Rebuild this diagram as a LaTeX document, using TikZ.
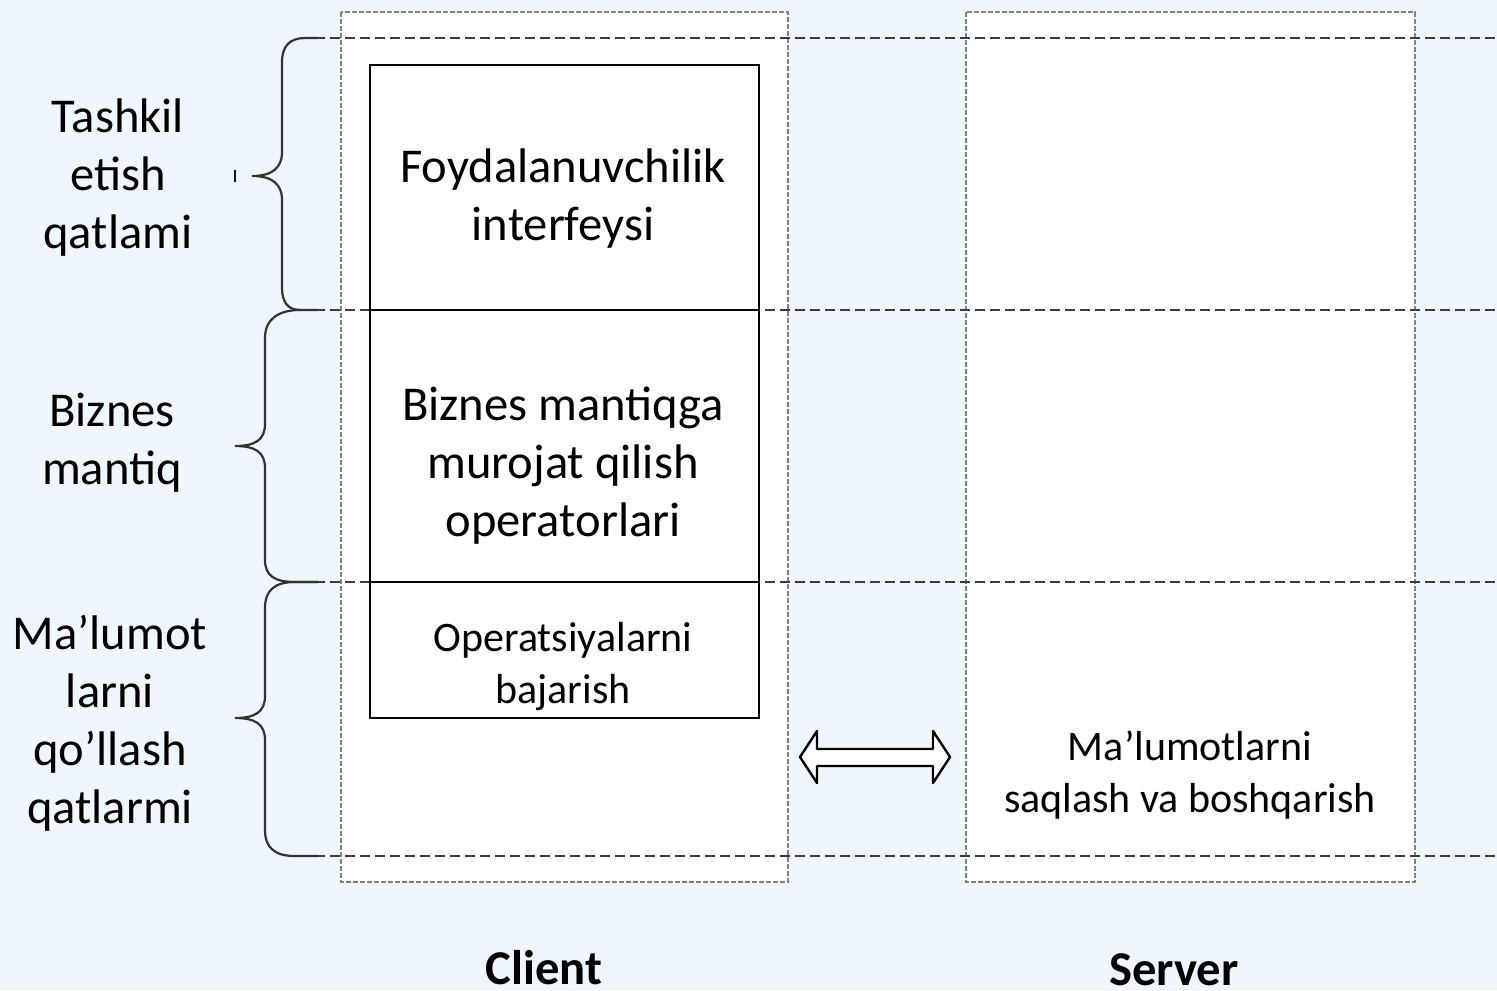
\documentclass[tikz,border=0pt]{standalone}
\usepackage{fontspec}
\setmainfont{Carlito}
\usetikzlibrary{positioning}
\definecolor{bgblue}{RGB}{239,247,253}
\definecolor{gridgray}{RGB}{60,60,60}
\definecolor{colgray}{RGB}{130,130,130}
\tikzset{
  layerline/.style={draw=gridgray, line width=1.3pt, dash pattern=on 5pt off 2.5pt},
  colborder/.style={draw=colgray, line width=0.9pt, dash pattern=on 2.5pt off 1pt, fill=white},
  brace/.style={draw=black!80, line width=1.1pt},
  bigtxt/.style={align=center, font=\fontsize{24.3}{29}\selectfont},
  midtxt/.style={align=center, font=\fontsize{21}{26}\selectfont},
  coltitle/.style={font=\fontsize{24.3}{28}\selectfont\bfseries}
}
\begin{document}
\begin{tikzpicture}[x=0.5pt,y=0.5pt,yscale=-1,xscale=1]
\fill[bgblue] (0,0) rectangle (1497,990);
\useasboundingbox (0,0) rectangle (1497,990);

%Shape: Rectangle [client column]
\path[colborder] (341,12) rectangle (788,882);
%Shape: Rectangle [server column]
\path[colborder] (966,12) rectangle (1415,882);

%Straight Lines [layer borders]
\draw[layerline] (300,38) -- (1497,38);
\draw[layerline] (300,310) -- (1497,310);
\draw[layerline] (300,582) -- (1497,582);
\draw[layerline] (300,856) -- (1497,856);

%Shape: Rectangle [client box]
\draw[line width=1.1pt] (370,65) rectangle (759,718);
\draw[line width=1.1pt] (370,310) -- (759,310);
\draw[line width=1.1pt] (370,582) -- (759,582);

%Shape: Brace [top]
\draw[brace] (318,38) -- (305,38) .. controls (290,38) and (282,46) .. (282,62) -- (282,152) .. controls (282,168) and (272,176) .. (252,176) .. controls (272,176) and (282,184) .. (282,200) -- (282,288) .. controls (282,302) and (288,310) .. (300,310) -- (318,310);
%Shape: Brace [middle]
\draw[brace] (300,310) .. controls (280,310) and (265,318) .. (265,338) -- (265,424) .. controls (265,440) and (255,446) .. (235,446) .. controls (255,446) and (265,452) .. (265,468) -- (265,560) .. controls (265,576) and (275,582) .. (295,582) -- (318,582);
%Shape: Brace [bottom]
\draw[brace] (318,582) -- (295,582) .. controls (275,582) and (265,590) .. (265,608) -- (265,696) .. controls (265,712) and (255,718) .. (235,718) .. controls (255,718) and (265,724) .. (265,740) -- (265,830) .. controls (265,848) and (275,856) .. (295,856) -- (318,856);
\draw[blue!50!black, line width=0.8pt] (235,170) -- (235,182);

%Shape: Double Arrow
\draw[line width=1.2pt, fill=white, line join=round] (800,757) -- (817,731) -- (817,749) -- (933,749) -- (933,731) -- (950,757) -- (933,783) -- (933,766) -- (817,766) -- (817,783) -- cycle;

% Text Node
\node[bigtxt] (tashkil) at (118,178) {Tashkil\\etish\\qatlami};
% Text Node
\node[bigtxt] (biznes) at (112,443) {Biznes\\mantiq};
% Text Node
\node[bigtxt] (malumot) at (110,723) {Ma’lumot\\larni\\qo’llash\\qatlarmi};
% Text Node
\node[bigtxt] (foyda) at (563,199) {Foydalanuvchilik\\interfeysi};
% Text Node
\node[bigtxt] (murojat) at (563,466) {Biznes mantiqga\\murojat qilish\\operatorlari};
% Text Node
\node[midtxt] (operats) at (563,667) {Operatsiyalarni\\bajarish};
% Text Node
\node[midtxt] (saqlash) at (1190,775) {Ma’lumotlarni\\saqlash va boshqarish};
% Text Node
\node[coltitle] (client) at (544,968) {Client};
% Text Node
\node[coltitle] (server) at (1174,970) {Server};

\end{tikzpicture}
\end{document}
